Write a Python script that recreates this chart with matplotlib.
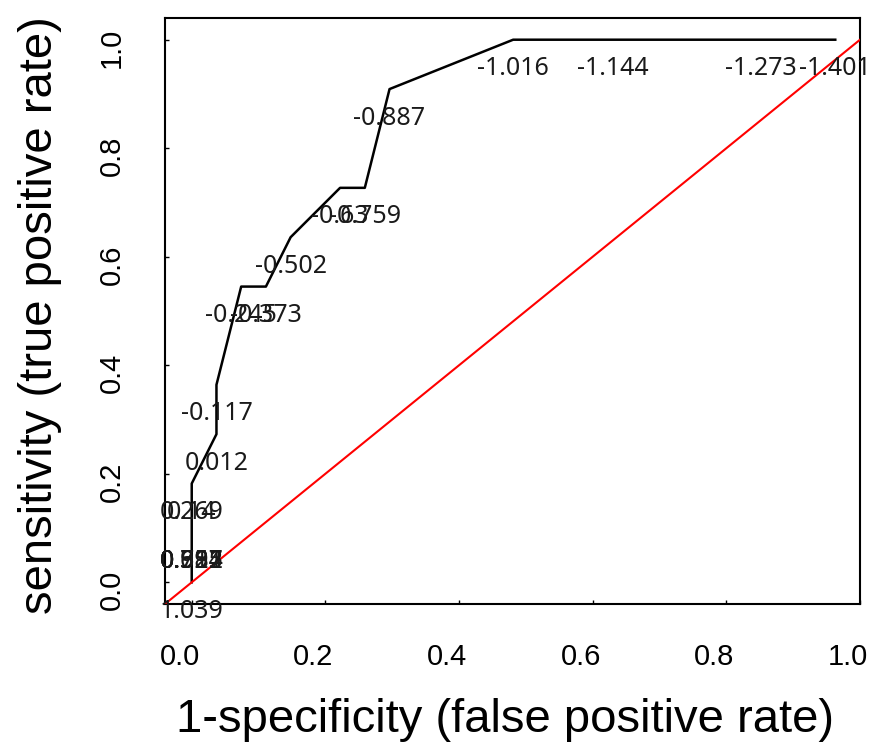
import matplotlib
matplotlib.use('Agg')
import matplotlib.pyplot as plt
from matplotlib.transforms import ScaledTranslation

# ROC curve vertices (false positive rate, true positive rate)
fpr = [0.0, 0.0, 0.0, 0.037, 0.037, 0.074, 0.111, 0.148, 0.222, 0.259, 0.296, 0.481, 0.630, 0.852, 0.963]
tpr = [0.0, 0.091, 0.182, 0.273, 0.364, 0.545, 0.545, 0.636, 0.727, 0.727, 0.909, 1.0, 1.0, 1.0, 1.0]

# cutoff labels printed on the curve
cut_labels = ['1.039', '0.911', '0.782', '0.654', '0.525', '0.397', '0.269', '0.14',
              '0.012', '-0.117', '-0.245', '-0.373', '-0.502', '-0.63', '-0.759',
              '-0.887', '-1.016', '-1.144', '-1.273', '-1.401']
cut_fpr = [0.0, 0.0, 0.0, 0.0, 0.0, 0.0, 0.0, 0.0,
           0.037, 0.037, 0.074, 0.111, 0.148, 0.222, 0.259,
           0.296, 0.481, 0.630, 0.852, 0.963]
cut_tpr = [0.0, 0.091, 0.091, 0.091, 0.091, 0.091, 0.182, 0.182,
           0.273, 0.364, 0.545, 0.545, 0.636, 0.727, 0.727,
           0.909, 1.0, 1.0, 1.0, 1.0]

x_ticks = [0.0, 0.2, 0.4, 0.6, 0.8, 1.0]
y_ticks = [0.0, 0.2, 0.4, 0.6, 0.8, 1.0]
x_label = '1-specificity (false positive rate)'
y_label = 'sensitivity (true positive rate)'

W, H = 874, 746
fig = plt.figure(figsize=(W / 100, H / 100), dpi=100)
ax = fig.add_axes([165 / W, 1 - 604 / H, (860 - 165) / W, (604 - 18) / H])

ax.axline((0, 0), slope=1, color='red', lw=1.5, zorder=3)
ax.plot(fpr, tpr, color='black', lw=1.8, zorder=2)

for lab, x, y in zip(cut_labels, cut_fpr, cut_tpr):
    ax.annotate(lab, (x, y), xytext=(0, -29), textcoords='offset pixels',
                ha='center', va='center', fontsize=18, family=['Noto Sans', 'DejaVu Sans'],
                color='#1a1a1a', annotation_clip=False, zorder=4)

ax.set_xlim(-0.04, 1.0)
ax.set_ylim(-0.04, 1.04)
ax.set_xticks(x_ticks)
ax.set_yticks(y_ticks)
ax.set_xticklabels(['%.1f' % v for v in x_ticks])
ax.set_yticklabels(['%.1f' % v for v in y_ticks], rotation=90, va='center')
ax.tick_params(direction='in', length=3, width=1)
ax.tick_params(axis='x', pad=28)
ax.tick_params(axis='y', pad=28)
for s in ax.spines.values():
    s.set_linewidth(1.5)

for lbl in ax.get_xticklabels():
    lbl.set_fontfamily(['Liberation Sans', 'DejaVu Sans'])
    lbl.set_fontsize(21)
    lbl.set_transform(lbl.get_transform() + ScaledTranslation(-12 / 100, 0, fig.dpi_scale_trans))
for lbl in ax.get_yticklabels():
    lbl.set_fontfamily(['Liberation Sans', 'DejaVu Sans'])
    lbl.set_fontsize(21)
    lbl.set_transform(lbl.get_transform() + ScaledTranslation(0, -8 / 100, fig.dpi_scale_trans))

fig.text(505 / W, 1 - 720 / H, x_label, ha='center', va='center', fontsize=34,
         family=['Liberation Sans', 'DejaVu Sans'])
fig.text(40 / W, 1 - 315 / H, y_label, ha='center', va='center', fontsize=34,
         rotation=90, family=['Liberation Sans', 'DejaVu Sans'])

fig.savefig('out.png', dpi=100)
